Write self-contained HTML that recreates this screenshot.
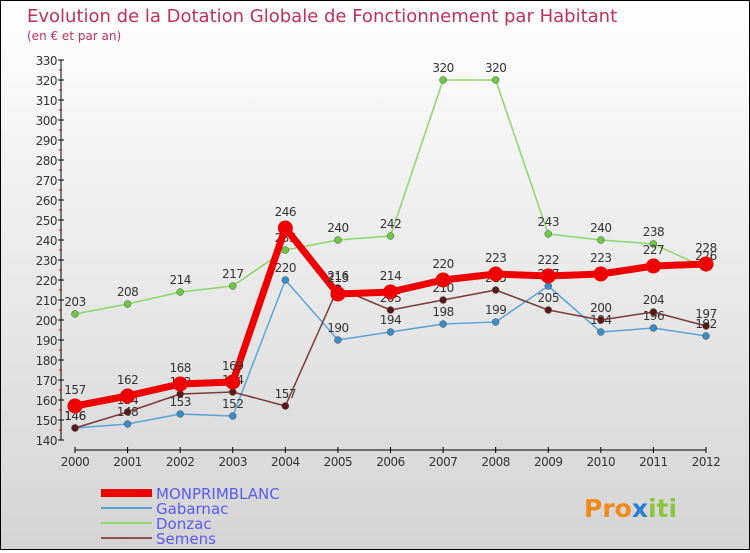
<!DOCTYPE html>
<html><head><meta charset="utf-8"><style>
html,body{margin:0;padding:0}
body{width:750px;height:550px;overflow:hidden;font-family:"DejaVu Sans","Liberation Sans",sans-serif}
#wrap{position:relative;width:748px;height:548px;border:1px solid #000;background:linear-gradient(#ffffff,#d4d4d4)}
</style></head><body>
<div id="wrap">
<svg id="chart" width="748" height="548" xmlns="http://www.w3.org/2000/svg">
<text x="26" y="21" font-size="18" fill="#c0305a" font-family="DejaVu Sans, sans-serif">Evolution de la Dotation Globale de Fonctionnement par Habitant</text>
<text x="26" y="39" font-size="12" fill="#c0305a">(en € et par an)</text>
<g id="axes"></g><g id="series"></g><g id="legend"></g>
<text x="583" y="516" font-size="25" font-weight="bold" fill="#f08a1c">Pro<tspan fill="#2a7fd4">x</tspan><tspan fill="#8cc63f">iti</tspan></text>
</svg>
</div>
<script>
const years=[2000,2001,2002,2003,2004,2005,2006,2007,2008,2009,2010,2011,2012];
const yTicks=[140,150,160,170,180,190,200,210,220,230,240,250,260,270,280,290,300,310,320,330];
const monprimblanc=[157,162,168,169,246,213,214,220,223,222,223,227,228];
const gabarnac=[146,148,153,152,220,190,194,198,199,217,194,196,192];
const donzac=[203,208,214,217,235,240,242,320,320,243,240,238,226];
const semens=[146,154,163,164,157,216,205,210,215,205,200,204,197];
const seriesNames=["MONPRIMBLANC","Gabarnac","Donzac","Semens"];
const NS="http://www.w3.org/2000/svg";
function X(i){return 74+i*(631/12);}
function Y(v){return 439-(v-140)*2;}
function mk(tag,attrs,parent){const e=document.createElementNS(NS,tag);for(const k in attrs)e.setAttribute(k,attrs[k]);parent.appendChild(e);return e;}
const ax=document.getElementById('axes');
let l=mk('line',{x1:60,y1:Y(330),x2:60,y2:Y(140),stroke:'#000'},ax);


l=mk('line',{x1:X(0),y1:449,x2:X(12),y2:449,stroke:'#000'},ax);


yTicks.forEach(v=>{
 mk('line',{x1:57,y1:Y(v),x2:63,y2:Y(v),stroke:'#000'},ax);
 if(v<330) mk('line',{x1:58,y1:Y(v+5),x2:61,y2:Y(v+5),stroke:'#e00'},ax);
 const t=mk('text',{x:56,y:Y(v)+5,'font-size':12,'text-anchor':'end',fill:'#333','letter-spacing':'-0.5'},ax);
 t.textContent=v;
 
 
});
years.forEach((yr,i)=>{
 mk('line',{x1:X(i),y1:446,x2:X(i),y2:452,stroke:'#000'},ax);
 const t=mk('text',{x:X(i),y:465,'font-size':12,'text-anchor':'middle',fill:'#333','letter-spacing':'-0.5'},ax);
 t.textContent=yr;
 
 
});
const sg=document.getElementById('series');
const defs=[[donzac,'#8cd66a','#6cc840',1.5,3.5,'donzac'],[gabarnac,'#5aa4d8','#3a8cc8',1.5,3.5,'gabarnac'],[semens,'#7a3a3a','#5a1818',1.5,3.5,'semens'],[monprimblanc,'#ee0000','#ee0000',7,7.5,'monprimblanc']];
defs.forEach(([d,c,fc,w,r,n])=>{
 const p=mk('polyline',{points:d.map((v,i)=>X(i)+','+Y(v)).join(' '),fill:'none',stroke:c,'stroke-width':w,'stroke-linejoin':'round'},sg);
 
 
 d.forEach((v,i)=>{
  const ci=mk('circle',{cx:X(i),cy:Y(v),r:r,fill:fc,stroke:n==='monprimblanc'?'none':'#555','stroke-width':0.5},sg);
  
  
  const t=mk('text',{x:X(i),y:Y(v)-(n==='monprimblanc'?12:8),'font-size':12,'text-anchor':'middle',fill:'#333','letter-spacing':'-0.5'},sg);
  t.textContent=v;
  
  
 });
});
const lg=document.getElementById('legend');
const lc=['#ee0000','#5aa4d8','#8cd66a','#8a5050'],lw=[8,2,2,2];
seriesNames.forEach((s,i)=>{
 const y=492+i*15;
 const li=mk('line',{x1:100,y1:y,x2:151,y2:y,stroke:lc[i],'stroke-width':lw[i]},lg);
 
 
 const t=mk('text',{x:155,y:y+6,'font-size':15,fill:'#5a5af0'},lg);
 t.textContent=s;
 
 
});
</script>
</body></html>
